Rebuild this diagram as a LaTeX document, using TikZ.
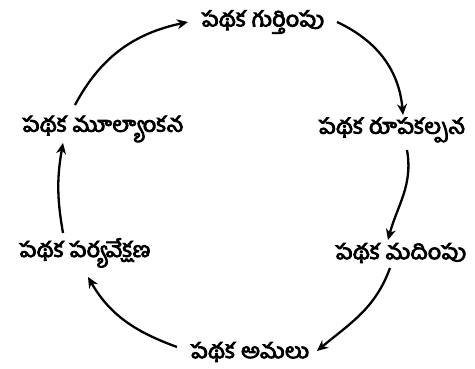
\documentclass[tikz,border=0pt]{standalone}
\usepackage{fontspec}
\newfontfamily\telugu[Script=Telugu,FakeBold=4,FakeStretch=1.12]{Hind Guntur}
\usetikzlibrary{arrows.meta}

\tikzset{
    stage/.style={font=\telugu\fontsize{21}{23}\selectfont, inner sep=2pt},
    cycle/.style={-{Stealth[length=11pt,width=10pt]}, line width=2.3pt, black}
}

\begin{document}
\begin{tikzpicture}[x=1pt,y=1pt]
    \useasboundingbox (0,0) rectangle (475,369);

    % Stages of the cycle
    \node[stage] (gurthimpu)     at (263,347) {పథక గుర్తింపు};
    \node[stage] (rupakalpana)   at (392,239) {పథక రూపకల్పన};
    \node[stage] (madimpu)       at (401,116) {పథక మదింపు};
    \node[stage] (amalu)         at (250,17)  {పథక అమలు};
    \node[stage] (paryavekshana) at (85,116)  {పథక పర్యవేక్షణ};
    \node[stage] (mulyankana)    at (103,240) {పథక మూల్యాంకన};

    % Curved arrows round the circle
    \draw[cycle] ([shift={(-28,24)}]mulyankana.center) to[out=62,in=192] ([shift={(-75,0)}]gurthimpu.center);
    \draw[cycle] ([shift={(74,0)}]gurthimpu.center) to[out=-25,in=95] ([shift={(11,15)}]rupakalpana.center);
    \draw[cycle] ([shift={(15,-20)}]rupakalpana.center) to[out=-80,in=75] ([shift={(-13,13)}]madimpu.center);
    \draw[cycle] ([shift={(-11,-15)}]madimpu.center) to[out=-110,in=40] ([shift={(67,1)}]amalu.center);
    \draw[cycle] ([shift={(-73,5)}]amalu.center) to[out=160,in=-60] ([shift={(3,-24)}]paryavekshana.center);
    \draw[cycle] ([shift={(-22,20)}]paryavekshana.center) to[out=100,in=-100] ([shift={(-40,-14)}]mulyankana.center);
\end{tikzpicture}
\end{document}
